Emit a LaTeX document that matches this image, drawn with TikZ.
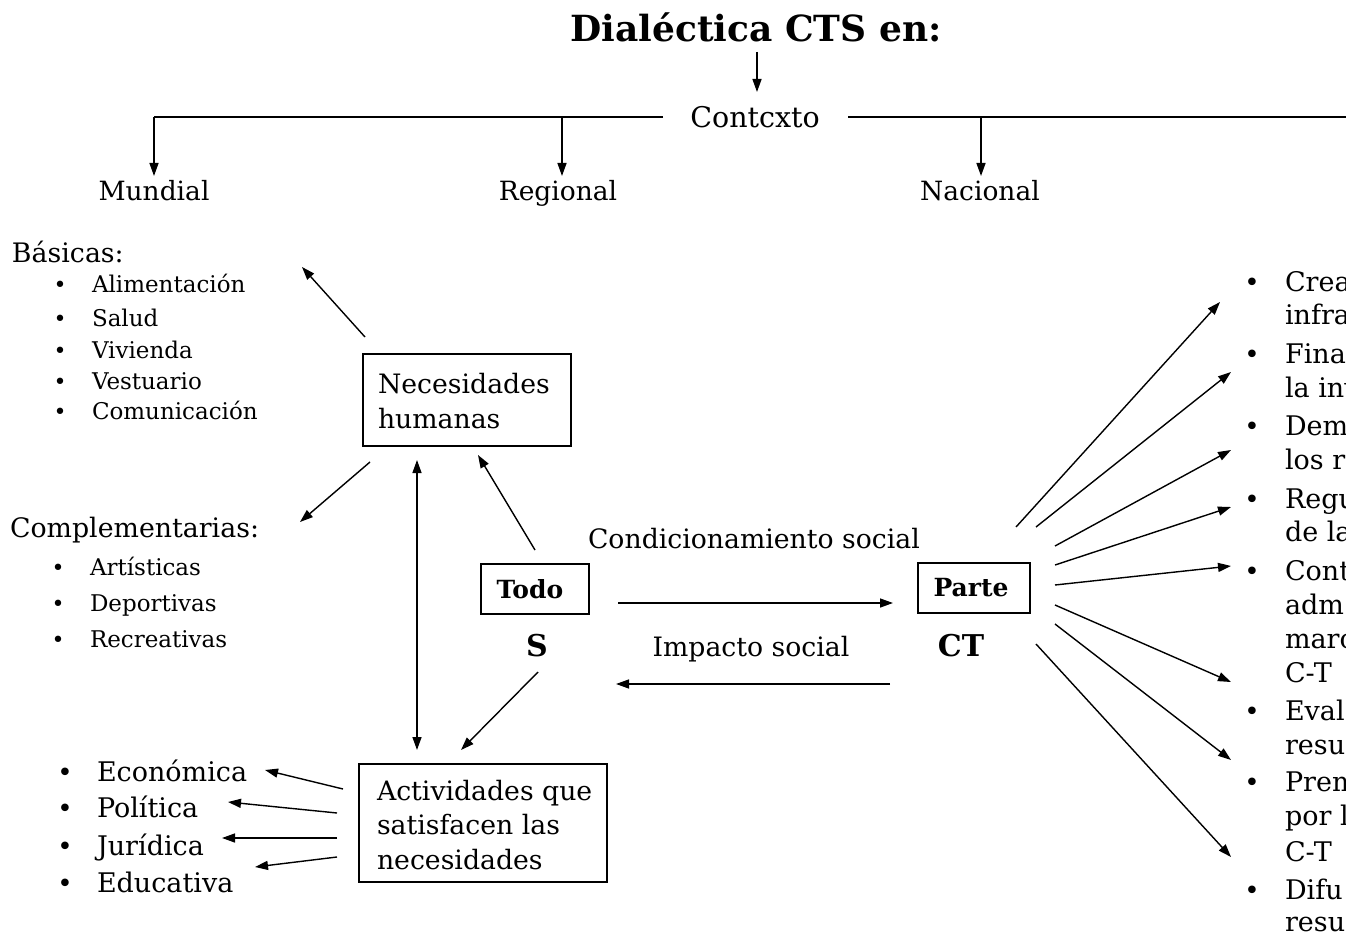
\documentclass[tikz,border=0pt]{standalone}
\usepackage{fontspec}
\setmainfont{DejaVu Serif}
\usetikzlibrary{arrows.meta,calc}
\tikzset{
  every node/.style={inner sep=0pt, outer sep=0pt},
  txt/.style={font=\fontsize{26.7}{35}\selectfont, anchor=base},
  ltxt/.style={font=\fontsize{23}{31}\selectfont, anchor=base west},
  htxt/.style={font=\fontsize{26.8}{31}\selectfont, anchor=base west},
  ctxt/.style={font=\fontsize{26.5}{31}\selectfont, anchor=base},
  rtxt/.style={font=\fontsize{27}{34}\selectfont, anchor=base west},
  bul/.style={font=\fontsize{26}{26}\selectfont, anchor=base},
  sbul/.style={font=\fontsize{22}{22}\selectfont, anchor=base},
  titletxt/.style={font=\bfseries\fontsize{36}{40}\selectfont, anchor=base},
  boldtxt/.style={font=\bfseries\fontsize{30}{34}\selectfont, anchor=base},
  boxframe/.style={draw, line width=1.3pt, anchor=center},
  boxtext/.style={font=\fontsize{26.7}{34.5}\selectfont, align=left, anchor=west},
  bbox/.style={draw, line width=1.3pt, font=\bfseries\fontsize{25}{28}\selectfont},
  conn/.style={line width=1.4pt},
  arr/.style={line width=1.4pt, -{Triangle[length=13pt,width=9pt]}},
  darr/.style={line width=1.4pt, {Triangle[length=13pt,width=9pt]}-{Triangle[length=13pt,width=9pt]}}
}
\begin{document}
\begin{tikzpicture}[x=1pt,y=-1pt]
\useasboundingbox (0,0) rectangle (1346,933);
\clip (0,0) rectangle (1346,933);
% title
\node[titletxt] (title) at (756,42) {Dialéctica CTS en:};
\coordinate (ta) at (757,52);
\coordinate (tb) at (757,92);
\draw[arr] (ta) -- (tb);
\node[font=\fontsize{28.5}{31}\selectfont, anchor=base] (ctx) at (755,128) {Contcxto};
\coordinate (hl) at (154,117);
\coordinate (hlm) at (562,117);
\coordinate (hle) at (663,117);
\coordinate (hrs) at (848,117);
\coordinate (hrn) at (981,117);
\coordinate (hre) at (1346,117);
\draw[conn] (hle) -- (hl);
\draw[conn] (hrs) -- (hre);
\node[ctxt] (mun) at (154,201) {Mundial};
\node[ctxt] (reg) at (558,201) {Regional};
\node[ctxt] (nac) at (980,201) {Nacional};
\coordinate (mund) at (154,176);
\coordinate (regd) at (562,176);
\coordinate (nacd) at (981,176);
\draw[arr] (hl) -- (mund);
\draw[arr] (hlm) -- (regd);
\draw[arr] (hrn) -- (nacd);

% Basicas
\node[htxt] (bas) at (12,262) {Básicas:};
\foreach \t/\y [count=\i] in {Alimentación/293,Salud/326,Vivienda/358,Vestuario/389,Comunicación/419}{
  \node[sbul] (bb\i) at (60,\y) {•};
  \node[ltxt] (bt\i) at (92,\y) {\t};
}
\node[htxt] (comp) at (10,537) {Complementarias:};
\foreach \t/\y [count=\i] in {Artísticas/575,Deportivas/611,Recreativas/647}{
  \node[sbul] (cb\i) at (58,\y) {•};
  \node[ltxt] (ct\i) at (90,\y) {\t};
}

% Necesidades humanas
\node[boxframe, minimum width=208pt, minimum height=92pt] (nec) at (467,400) {};
\node[boxtext] (nect) at ($(nec.west)+(15,1)$) {Necesidades\\humanas};
\coordinate (n1) at (365,337);
\coordinate (basa) at (302,267);
\coordinate (n2) at (370,462);
\coordinate (compa) at (300,522);
\draw[arr] (n1) -- (basa);
\draw[arr] (n2) -- (compa);

% Todo / Parte
\node[bbox, minimum width=108pt, minimum height=50pt] (todo) at (535,589) {\hspace{-10pt}Todo};
\node[bbox, minimum width=112pt, minimum height=50pt] (parte) at (974,588) {\hspace{-6pt}Parte};
\node[boldtxt] (S) at (537,656) {S};
\node[boldtxt] (CT) at (961,656) {CT};
\node[txt] (cond) at (754,548) {Condicionamiento social};
\node[txt] (imp) at (751,656) {Impacto social};
\coordinate (c1) at (618,603);
\coordinate (c2) at (893,603);
\coordinate (i1) at (890,684);
\coordinate (i2) at (616,684);
\draw[arr] (c1) -- (c2);
\draw[arr] (i1) -- (i2);

% Todo -> Necesidades, S -> Actividades
\coordinate (tn1) at (535,550);
\coordinate (tn2) at (478,455);
\draw[arr] (tn1) -- (tn2);
\coordinate (sa1) at (538,672);
\coordinate (sa2) at (461,750);
\draw[arr] (sa1) -- (sa2);
\coordinate (d1) at (417,460);
\coordinate (d2) at (417,750);
\draw[darr] (d1) -- (d2);

% Actividades
\node[boxframe, minimum width=248pt, minimum height=118pt] (act) at (483,823) {};
\node[boxtext] (actt) at ($(act.west)+(18,2)$) {Actividades que\\satisfacen las\\necesidades};
\foreach \t/\y [count=\i] in {Económica/781,Política/817,Jurídica/855,Educativa/892}{
  \node[bul] (ab\i) at (65,\y) {•};
  \node[rtxt] (at\i) at (97,\y) {\t};
}
\coordinate (a1s) at (343,789); \coordinate (a1e) at (265,770);
\coordinate (a2s) at (337,813); \coordinate (a2e) at (228,802);
\coordinate (a3s) at (337,838); \coordinate (a3e) at (222,838);
\coordinate (a4s) at (337,857); \coordinate (a4e) at (255,867);
\draw[arr] (a1s) -- (a1e);
\draw[arr] (a2s) -- (a2e);
\draw[arr] (a3s) -- (a3e);
\draw[arr] (a4s) -- (a4e);

% right side
\coordinate (p1s) at (1016,527); \coordinate (p1e) at (1220,302);
\coordinate (p2s) at (1036,527); \coordinate (p2e) at (1231,372);
\coordinate (p3s) at (1055,546); \coordinate (p3e) at (1231,450);
\coordinate (p4s) at (1055,565); \coordinate (p4e) at (1231,507);
\coordinate (p5s) at (1055,585); \coordinate (p5e) at (1231,566);
\coordinate (p6s) at (1055,605); \coordinate (p6e) at (1231,682);
\coordinate (p7s) at (1055,624); \coordinate (p7e) at (1231,760);
\coordinate (p8s) at (1036,644); \coordinate (p8e) at (1231,857);
\foreach \i in {1,...,8}{ \draw[arr] (p\i s) -- (p\i e); }
\foreach \y [count=\i] in {291,363,435,508,580,720,791,899}{
  \node[bul] (rb\i) at (1252,\y) {•};
}
\foreach \t/\y [count=\i] in {Crea/291,infra/324,Fina/363,la inv/397,Dem/435,los r/469,Regu/508,de la/541,Cont/580,adm/614,marc/648,C-T/682,Eval/720,resu/754,Prem/791,por l/825,C-T/861,Difu/899,resu/931}{
  \node[rtxt] (r\i) at (1285,\y) {\t};
}
\end{tikzpicture}
\end{document}
